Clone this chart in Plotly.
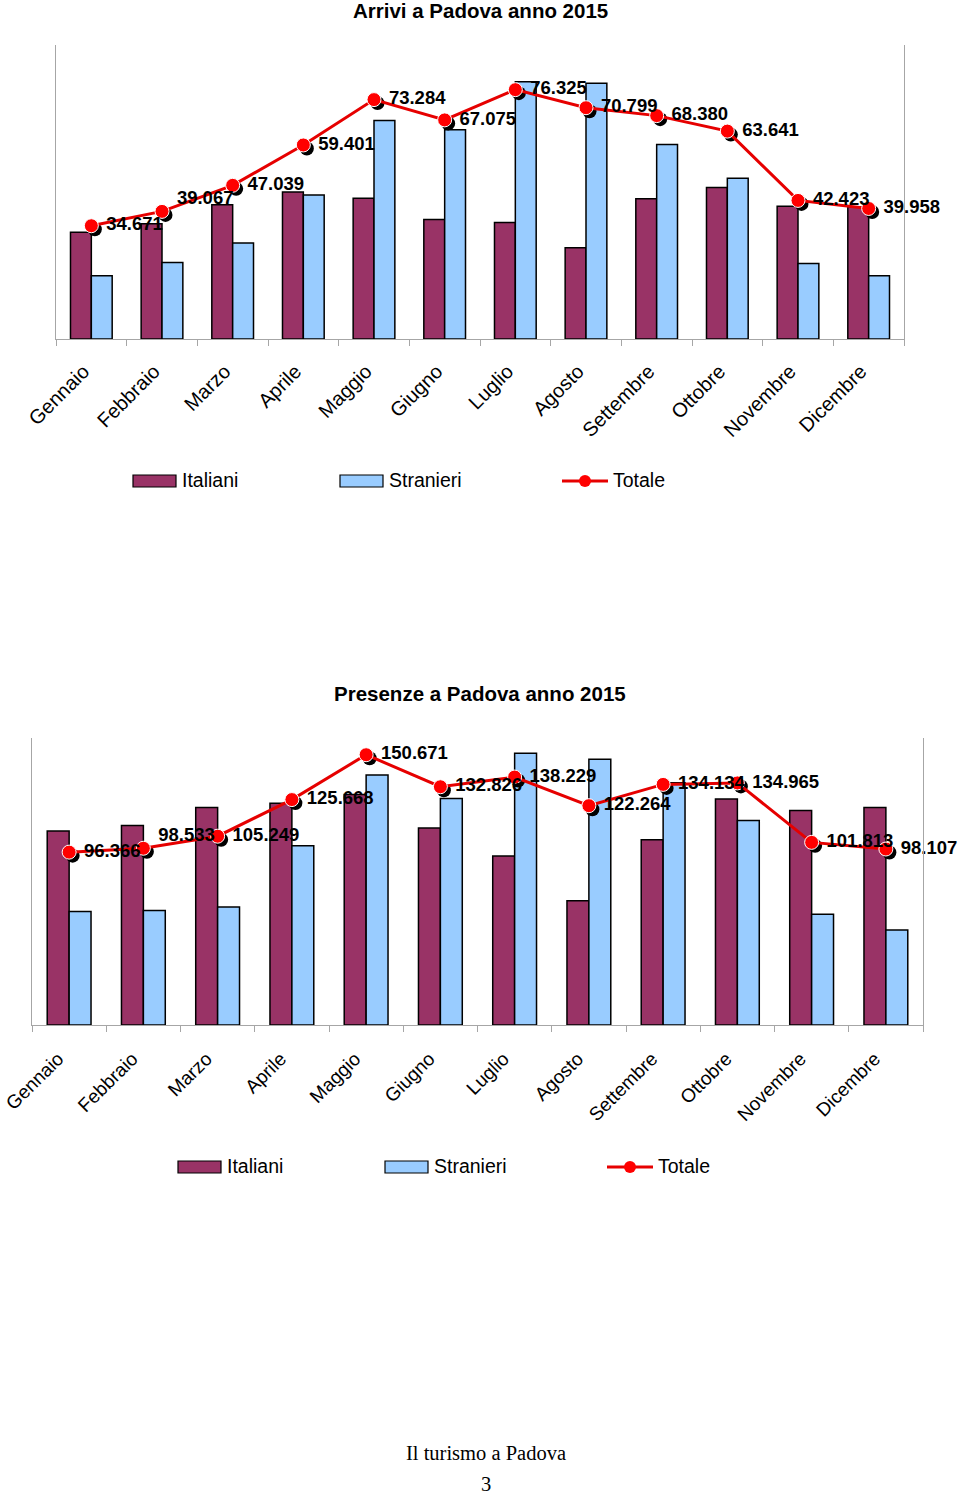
import plotly.graph_objects as go

# ---------------- data ----------------
months = ["Gennaio", "Febbraio", "Marzo", "Aprile", "Maggio", "Giugno",
          "Luglio", "Agosto", "Settembre", "Ottobre", "Novembre", "Dicembre"]

arrivi_italiani = [21800, 23500, 27400, 30000, 28700, 24400,
                   23800, 18600, 28600, 30900, 27100, 27000]
arrivi_stranieri = [12900, 15600, 19600, 29400, 44600, 42700,
                    52500, 52200, 39700, 32800, 15400, 12900]
arrivi_totale = [34671, 39067, 47039, 59401, 73284, 67075,
                 76325, 70799, 68380, 63641, 42423, 39958]

presenze_italiani = [60800, 62600, 68200, 69500, 72300, 61800,
                     53000, 39000, 58100, 70900, 67300, 68200]
presenze_stranieri = [35600, 35900, 37000, 56200, 78400, 71000,
                      85200, 83300, 76000, 64100, 34700, 29800]
presenze_totale = [96366, 98533, 105249, 125668, 150671, 132826,
                   138229, 122264, 134134, 134965, 101813, 98107]

title_arrivi = "Arrivi a Padova anno 2015"
title_presenze = "Presenze a Padova anno 2015"
legend_names = ["Italiani", "Stranieri", "Totale"]
footer_text = "Il turismo a Padova"
page_number = "3"

# ---------------- style ----------------
W, H = 960, 1497
C_IT = "#993366"
C_ST = "#99ccff"
C_LINE = "#e60000"
C_MARK = "#ff0000"
AXC = "#a6a6a6"
FONT = "Liberation Sans"
NB = "\u00a0"


def fx(px):
    return px / W


def fy(py):
    return 1 - py / H


def fmt(v):
    return f"{v:,}".replace(",", ".")


idx = list(range(len(months)))

fig = go.Figure()

charts = [
    dict(it=arrivi_italiani, st=arrivi_stranieri, tot=arrivi_totale,
         x0=56, x1=904, top=45, base=339, bar_max=60000, line_max=90000,
         bx="x", by="y", sx="x3", sy="y3", lx="x4", ly="y4",
         title=title_arrivi, title_y=10, leg_y=480,
         leg_x=[133, 340, 562], raised=1, tick_pad=2, standoff=4, tick_size=20),
    dict(it=presenze_italiani, st=presenze_stranieri, tot=presenze_totale,
         x0=32, x1=923, top=738, base=1025, bar_max=90000, line_max=160000,
         bx="x2", by="y2", sx="x5", sy="y5", lx="x6", ly="y6",
         title=title_presenze, title_y=694, leg_y=1166,
         leg_x=[178, 385, 607], raised=1, tick_pad=3, standoff=3, tick_size=19),
]

shapes = []
annotations = []
layout_axes = {}

for c in charts:
    # bars
    fig.add_trace(go.Bar(x=months, y=c["it"], name=legend_names[0],
                         marker=dict(color=C_IT, line=dict(color="black", width=1.5)),
                         xaxis=c["bx"], yaxis=c["by"], showlegend=False))
    fig.add_trace(go.Bar(x=months, y=c["st"], name=legend_names[1],
                         marker=dict(color=C_ST, line=dict(color="black", width=1.5)),
                         xaxis=c["bx"], yaxis=c["by"], showlegend=False))
    # shadow of markers
    fig.add_trace(go.Scatter(x=idx, y=c["tot"], mode="markers",
                             marker=dict(color="black", size=14),
                             xaxis=c["sx"], yaxis=c["sy"], showlegend=False,
                             hoverinfo="skip"))
    # total line
    labels = [NB + fmt(v) for v in c["tot"]]
    labels[c["raised"]] = labels[c["raised"]] + "<br>" + NB
    fig.add_trace(go.Scatter(x=idx, y=c["tot"], mode="lines+markers+text",
                             name=legend_names[2],
                             line=dict(color=C_LINE, width=3),
                             marker=dict(color=C_MARK, size=14,
                                         line=dict(color="white", width=1)),
                             text=labels,
                             textposition="middle right",
                             textfont=dict(family=FONT, size=18.5, color="black",
                                           weight="bold"),
                             cliponaxis=False,
                             xaxis=c["lx"], yaxis=c["ly"], showlegend=False))

    dom_x = [fx(c["x0"]), fx(c["x1"])]
    dom_y = [fy(c["base"]), fy(c["top"])]
    plot_w = c["x1"] - c["x0"]
    plot_h = c["base"] - c["top"]
    n = len(months)
    dx = 3.5 * n / plot_w
    dy = 3.5 * c["line_max"] / plot_h

    bxn = c["bx"].replace("x", "xaxis")
    byn = c["by"].replace("y", "yaxis")
    lxn = c["lx"].replace("x", "xaxis")
    lyn = c["ly"].replace("y", "yaxis")
    sxn = c["sx"].replace("x", "xaxis")
    syn = c["sy"].replace("y", "yaxis")

    layout_axes[bxn] = dict(domain=dom_x, anchor=c["by"], type="category",
                            range=[-0.5, n - 0.5], automargin=False,
                            tickmode="array", tickvals=months,
                            ticktext=[m + NB * c["tick_pad"] for m in months],
                            showline=True, linecolor=AXC, linewidth=1,
                            ticks="outside", tickson="boundaries", ticklen=6,
                            tickcolor=AXC, tickangle=-45, showgrid=False,
                            tickfont=dict(family=FONT, size=c["tick_size"], color="black"),
                            ticklabelstandoff=c["standoff"])
    layout_axes[byn] = dict(domain=dom_y, anchor=c["bx"], range=[0, c["bar_max"]],
                            showline=True, linecolor=AXC, linewidth=1,
                            showticklabels=False, ticks="", showgrid=False,
                            zeroline=False, automargin=False)
    layout_axes[sxn] = dict(overlaying=c["bx"], anchor=c["sy"], type="linear",
                            range=[-0.5 - dx, n - 0.5 - dx], visible=False)
    layout_axes[syn] = dict(overlaying=c["by"], anchor=c["sx"],
                            range=[dy, c["line_max"] + dy], visible=False)
    layout_axes[lxn] = dict(overlaying=c["bx"], anchor=c["ly"], type="linear",
                            range=[-0.5, n - 0.5], visible=False)
    layout_axes[lyn] = dict(overlaying=c["by"], anchor=c["lx"], side="right",
                            range=[0, c["line_max"]], automargin=False,
                            showline=True, linecolor=AXC, linewidth=1,
                            showticklabels=False, ticks="", showgrid=False,
                            zeroline=False)

    # title
    annotations.append(dict(text="<b>" + c["title"] + "</b>", x=0.5, y=fy(c["title_y"]),
                            xref="paper", yref="paper", xanchor="center",
                            yanchor="middle", showarrow=False,
                            font=dict(family=FONT, size=20.5, color="black")))

    # custom legend
    ly = c["leg_y"]
    lx_it, lx_st, lx_tot = c["leg_x"]
    for lx, col in ((lx_it, C_IT), (lx_st, C_ST)):
        shapes.append(dict(type="rect", xref="paper", yref="paper",
                           x0=fx(lx), x1=fx(lx + 43), y0=fy(ly + 7), y1=fy(ly - 5),
                           fillcolor=col, line=dict(color="black", width=1.2)))
    shapes.append(dict(type="line", xref="paper", yref="paper",
                       x0=fx(lx_tot), x1=fx(lx_tot + 46), y0=fy(ly + 1), y1=fy(ly + 1),
                       line=dict(color=C_LINE, width=3)))
    shapes.append(dict(type="circle", xref="paper", yref="paper",
                       xsizemode="pixel", ysizemode="pixel",
                       xanchor=fx(lx_tot + 23), yanchor=fy(ly + 1),
                       x0=-6, x1=6, y0=-6, y1=6,
                       fillcolor=C_MARK, line=dict(color=C_MARK, width=0)))
    for lx, name in ((lx_it + 47, legend_names[0]), (lx_st + 47, legend_names[1]),
                     (lx_tot + 49, legend_names[2])):
        annotations.append(dict(text=name, x=fx(lx), y=fy(ly), xref="paper",
                                yref="paper", xanchor="left", yanchor="middle",
                                showarrow=False,
                                font=dict(family=FONT, size=19.5, color="black")))

# footer
annotations.append(dict(text=footer_text, x=fx(486), y=fy(1453), xref="paper",
                        yref="paper", xanchor="center", yanchor="middle",
                        showarrow=False,
                        font=dict(family="Liberation Serif", size=20.5, color="black")))
annotations.append(dict(text=page_number, x=fx(486), y=fy(1496), xref="paper",
                        yref="paper", xanchor="center", yanchor="bottom",
                        showarrow=False, borderpad=0,
                        font=dict(family="Liberation Serif", size=20.5, color="black")))

fig.update_layout(
    width=W, height=H, autosize=False,
    margin=dict(l=0, r=0, t=0, b=0, autoexpand=False),
    paper_bgcolor="white", plot_bgcolor="white",
    barmode="group", bargap=0.41, bargroupgap=0,
    showlegend=False,
    shapes=shapes, annotations=annotations,
    font=dict(family=FONT, color="black"),
    **layout_axes,
)

fig.write_html(
    "out.html",
    config={"displayModeBar": False},
    post_script="document.body.style.margin='0';document.body.style.padding='0';"
                "document.body.style.overflow='hidden';",
)
